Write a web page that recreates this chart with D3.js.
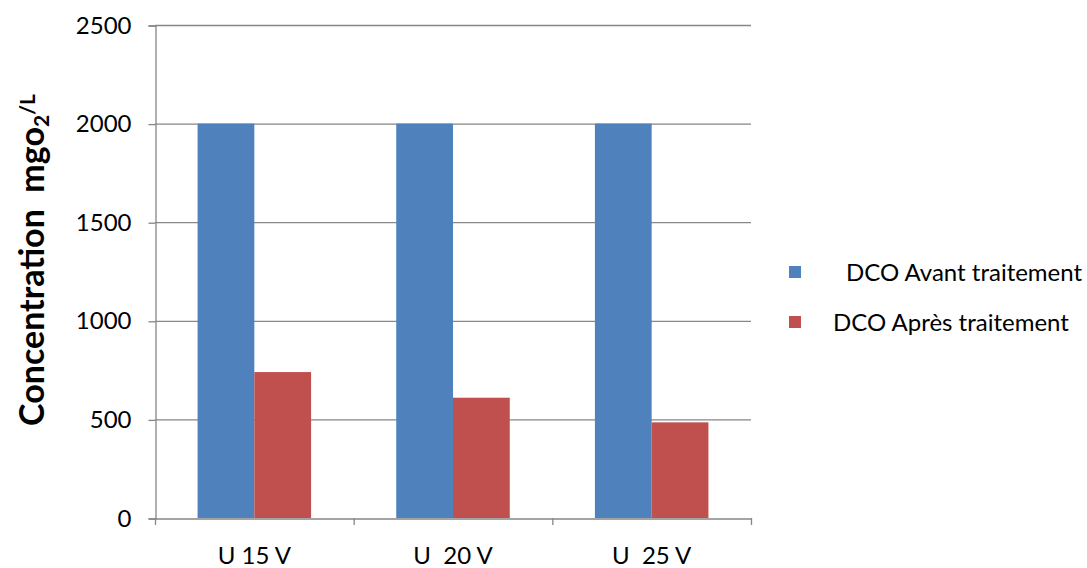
<!DOCTYPE html>
<html>
<head>
<meta charset="utf-8">
<script src="https://cdn.jsdelivr.net/npm/d3@7"></script>
<style>
  html, body { margin: 0; padding: 0; background: #fff; }
  svg { display: block; }
  text { font-family: Lato, "Open Sans", "Liberation Sans", sans-serif; fill: #000; }
</style>
</head>
<body>
<svg id="chart" width="1087" height="568"></svg>
<script>
// Chart data
const categories = ["U 15 V", "U  20 V", "U  25 V"];
const seriesNames = ["DCO Avant traitement", "DCO Après traitement"];
const avant = [2000, 2000, 2000];
const apres = [740, 610, 485];
const yTicks = [0, 500, 1000, 1500, 2000, 2500];
const colors = ["#4F81BD", "#C0504D"];

const svg = d3.select("#chart");
const margin = { left: 155, right: 336, top: 25, bottom: 50 };
const W = 1087, H = 568;
const x0 = margin.left, x1 = W - margin.right;
const yTop = margin.top, yBot = H - margin.bottom;

const x = d3.scaleBand().domain(categories).range([x0, x1]).paddingInner(0).paddingOuter(0);
const y = d3.scaleLinear().domain([0, 2500]).range([yBot, yTop]);

// bar width with a 150% gap between clusters
const barW = x.bandwidth() / 3.5;
const xs = d3.scaleBand().domain([0, 1]).range([0, barW * 2]);

const grid = "#868686";

// horizontal gridlines
svg.append("g").selectAll("line").data(yTicks.filter(t => t > 0)).join("line")
  .attr("x1", x0).attr("x2", x1)
  .attr("y1", d => y(d) + 0.5).attr("y2", d => y(d) + 0.5)
  .attr("stroke", grid).attr("stroke-width", 1.3);

// bars
const series = [avant, apres];
const g = svg.append("g");
series.forEach((vals, si) => {
  g.selectAll(null).data(categories).join("rect")
    .attr("x", (c) => x(c) + (x.bandwidth() - barW * 2) / 2 + xs(si))
    .attr("y", (c, i) => y(vals[i]))
    .attr("width", barW)
    .attr("height", (c, i) => yBot - y(vals[i]))
    .attr("fill", colors[si]);
});

// y axis
const yAxis = d3.axisLeft(y).tickValues(yTicks).tickSize(7).tickPadding(17).tickFormat(d3.format("d"));
const ya = svg.append("g").attr("transform", `translate(${x0 + 0.5},0.5)`).call(yAxis);
ya.select(".domain").attr("stroke", grid).attr("stroke-width", 1.3);
ya.selectAll(".tick line").attr("stroke", grid).attr("stroke-width", 1.3);
ya.selectAll(".tick text").attr("font-size", 24).attr("font-family", "Lato, 'Open Sans', sans-serif").attr("fill", "#000");

// x axis
const xAxis = d3.axisBottom(x).tickSize(0).tickPadding(28);
const xa = svg.append("g").attr("transform", `translate(0,${yBot + 0.5})`).call(xAxis);
xa.select(".domain").attr("stroke", grid).attr("stroke-width", 1.3);
xa.selectAll(".tick text").attr("font-size", 24).attr("font-family", "Lato, 'Open Sans', sans-serif").attr("fill", "#000").style("white-space", "pre").attr("xml:space", "preserve");
// category boundary ticks
const bounds = categories.map(c => x(c)).concat([x1]);
svg.append("g").selectAll("line").data(bounds).join("line")
  .attr("x1", d => d + 0.5).attr("x2", d => d + 0.5)
  .attr("y1", yBot).attr("y2", yBot + 7)
  .attr("stroke", grid).attr("stroke-width", 1.3);

// y axis title
const yt = svg.append("text")
  .attr("transform", `translate(44,260) rotate(-90)`)
  .attr("text-anchor", "middle")
  .attr("font-size", 34).attr("font-weight", "bold")
  .attr("xml:space", "preserve").style("white-space", "pre");
yt.append("tspan").text("Concentration  mgo");
yt.append("tspan").attr("baseline-shift", "-25%").attr("font-size", 21).text("2");
yt.append("tspan").attr("baseline-shift", "45%").attr("font-size", 21).text("/L");

// legend
const legTextX = [846, 833];
const leg = svg.append("g");
seriesNames.forEach((name, i) => {
  const ly = 272 + i * 50;
  leg.append("rect").attr("x", 789).attr("y", ly - 6).attr("width", 12).attr("height", 12).attr("fill", colors[i]);
  leg.append("text").attr("x", legTextX[i]).attr("y", ly + 9).attr("font-size", 24).text(name);
});
</script>
</body>
</html>
